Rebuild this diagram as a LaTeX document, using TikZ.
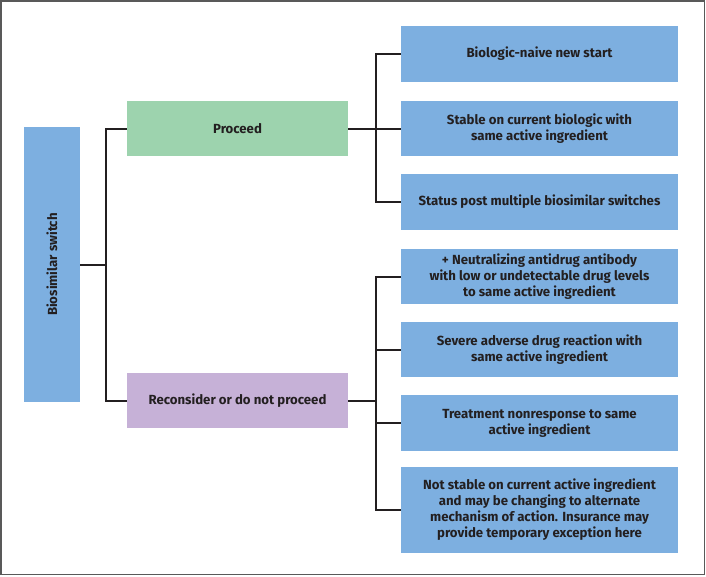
\documentclass[tikz,border=0pt]{standalone}
\usepackage{fontspec}
\setmainfont{Fira Sans}
\definecolor{boxblue}{HTML}{7DAFE0}
\definecolor{boxgreen}{HTML}{9DD3AE}
\definecolor{boxpurple}{HTML}{C6B1D7}
\definecolor{ink}{HTML}{231F20}
\begin{document}
\begin{tikzpicture}[x=1pt,y=-1pt,
  box/.style={draw=none,inner sep=0pt,align=center,text=ink,font=\fontsize{13.2}{16}\selectfont\bfseries},
  link/.style={draw=ink,line width=2pt}]
\useasboundingbox (0,0) rectangle (706,576);
\draw[gray!70!black,line width=1.5pt] (1,1) rectangle (704.5,574.5);
% left box
\node[box,fill=boxblue,minimum width=56pt,minimum height=275pt] (root) at (52,264.5) {\rotatebox{90}{Biosimilar switch}};
\node[box,fill=boxgreen,minimum width=221pt,minimum height=55pt] (proc) at (237.5,128.5) {Proceed};
\node[box,fill=boxpurple,minimum width=221pt,minimum height=55pt] (recon) at (237.5,400.5) {Reconsider or do not proceed};
\node[box,fill=boxblue,minimum width=277pt,minimum height=56pt] (r1) at (539.5,54) {Biologic-naive new start};
\node[box,fill=boxblue,minimum width=277pt,minimum height=55pt] (r2) at (539.5,128.5) {Stable on current biologic with\\same active ingredient};
\node[box,fill=boxblue,minimum width=277pt,minimum height=56pt] (r3) at (539.5,202) {Status post multiple biosimilar switches};
\node[box,fill=boxblue,minimum width=277pt,minimum height=55pt] (r4) at (539.5,276.5) {+ Neutralizing antidrug antibody\\with low or undetectable drug levels\\to same active ingredient};
\node[box,fill=boxblue,minimum width=277pt,minimum height=55pt] (r5) at (539.5,349.5) {Severe adverse drug reaction with\\same active ingredient};
\node[box,fill=boxblue,minimum width=277pt,minimum height=56pt] (r6) at (539.5,423) {Treatment nonresponse to same\\active ingredient};
\node[box,fill=boxblue,minimum width=277pt,minimum height=86pt] (r7) at (539.5,510) {Not stable on current active ingredient\\and may be changing to alternate\\mechanism of action. Insurance may\\provide temporary exception here};
% connectors
\coordinate (j0) at (106,265);
\coordinate (j1) at (376,128.5);
\coordinate (j2) at (376,401);
\draw[link] (root.east |- j0) -- (j0);
\draw[link] (proc.west) -| (j0) |- (recon.west);
\draw[link] (proc.east) -- (j1);
\draw[link] (r1.west) -| (j1) |- (r3.west);
\draw[link] (j1) -- (r2.west);
\draw[link] (recon.east |- j2) -- (j2);
\draw[link] (r4.west) -| (j2) |- (r7.west);
\draw[link] (376,349.5) -- (r5.west);
\draw[link] (376,423) -- (r6.west);
\end{tikzpicture}
\end{document}
